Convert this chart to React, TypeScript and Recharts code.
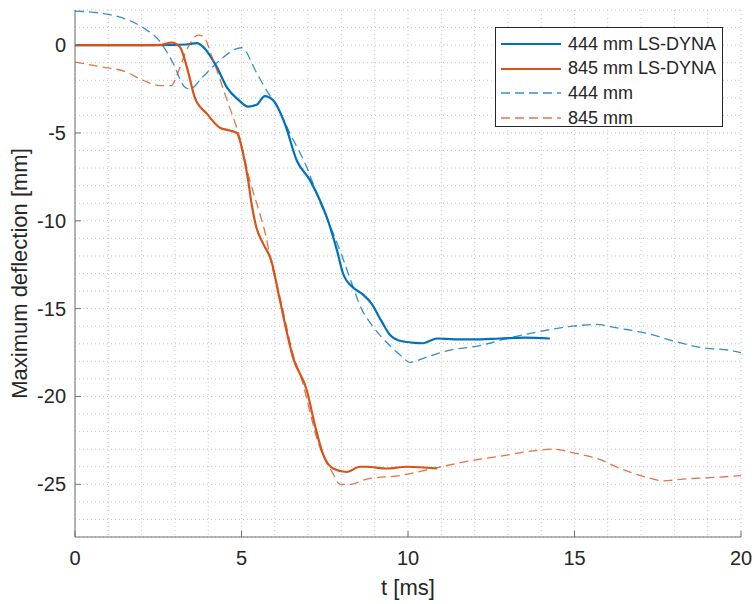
import React from 'react'
import { LineChart, Line, XAxis, YAxis, CartesianGrid, Legend } from 'recharts'

// time [ms] and deflection [mm]
const dyna444T = [0, 1, 2, 3, 3.4, 3.66, 3.9, 4.26, 4.56, 4.9, 5.2, 5.45, 5.7, 5.95, 6.3, 6.66, 7.06, 7.36, 7.6, 7.87, 8.05, 8.35, 8.65, 8.9, 9.2, 9.46, 9.7, 9.97, 10.2, 10.45, 10.7, 10.87, 11.4, 11.95, 12.76, 13.5, 14.26]
const dyna444Y = [0, 0, 0, 0.02, 0.05, 0.12, -0.2, -1.25, -2.4, -3.1, -3.5, -3.4, -2.9, -3.14, -4.46, -6.57, -7.7, -8.86, -10, -11.7, -13.0, -13.8, -14.2, -14.7, -15.7, -16.5, -16.8, -16.9, -16.95, -16.97, -16.8, -16.7, -16.75, -16.75, -16.7, -16.65, -16.7]

const dyna845T = [0, 1, 2, 2.6, 2.9, 3.15, 3.36, 3.6, 3.96, 4.35, 4.65, 4.86, 5.05, 5.2, 5.3, 5.45, 5.65, 5.9, 6.15, 6.55, 6.97, 7.2, 7.45, 7.75, 8.16, 8.56, 8.76, 9.36, 9.97, 10.87]
const dyna845Y = [0, 0, 0, 0.02, 0.15, -0.1, -1.25, -3.0, -3.9, -4.7, -4.86, -5.0, -6.2, -7.7, -9.0, -10.4, -11.3, -12.3, -14.5, -17.8, -19.7, -21.6, -23.3, -24.1, -24.3, -24.0, -24.0, -24.1, -24.0, -24.1]

const meas444T = [0, 0.84, 1.5, 2.04, 2.55, 2.94, 3.3, 3.45, 3.84, 4.35, 4.86, 5.0, 5.46, 5.76, 6.1, 6.45, 6.97, 7.27, 7.75, 8.0, 8.3, 8.6, 8.9, 9.4, 9.8, 10.06, 10.5, 11.17, 12.16, 12.97, 13.96, 14.95, 15.67, 16.28, 17.17, 18.08, 18.77, 19.76, 20]
const meas444Y = [1.94, 1.8, 1.5, 1.0, 0.2, -1.0, -2.4, -2.5, -1.8, -0.86, -0.2, -0.15, -1.6, -2.6, -3.6, -5.0, -7.0, -8.5, -10.7, -11.9, -13.5, -15.0, -15.9, -17.0, -17.7, -18.06, -17.8, -17.4, -17.1, -16.7, -16.3, -16.0, -15.9, -16.1, -16.4, -16.9, -17.2, -17.4, -17.5]

const meas845T = [0, 0.84, 1.5, 2.04, 2.55, 2.9, 3.06, 3.4, 3.7, 3.85, 4.15, 4.56, 4.95, 5.25, 5.55, 5.76, 5.86, 6.15, 6.55, 6.8, 7.3, 7.75, 7.96, 8.26, 8.76, 9.76, 10.75, 11.77, 12.76, 13.75, 14.35, 14.95, 15.77, 16.37, 17.17, 17.66, 18.26, 19.28, 20]
const meas845Y = [-0.97, -1.25, -1.5, -2.0, -2.3, -2.3, -1.7, -0.1, 0.57, 0.5, -0.86, -3.1, -5.3, -7.7, -9.6, -11.1, -12.1, -14.3, -17.6, -19.0, -22.6, -24.4, -25.0, -25.0, -24.7, -24.5, -24.1, -23.7, -23.4, -23.1, -23.0, -23.2, -23.6, -24.1, -24.6, -24.8, -24.7, -24.6, -24.5]

const xTicks = [0, 5, 10, 15, 20]
const yTicks = [-25, -20, -15, -10, -5, 0]
const xMinor = [0, 1, 2, 3, 4, 5, 6, 7, 8, 9, 10, 11, 12, 13, 14, 15, 16, 17, 18, 19, 20]
const yMinor = [-28, -27, -26, -25, -24, -23, -22, -21, -20, -19, -18, -17, -16, -15, -14, -13, -12, -11, -10, -9, -8, -7, -6, -5, -4, -3, -2, -1, 0, 1, 2]

const series = [
  { name: '444 mm LS-DYNA', t: dyna444T, y: dyna444Y, color: '#0072BD', dashed: false },
  { name: '845 mm LS-DYNA', t: dyna845T, y: dyna845Y, color: '#D95319', dashed: false },
  { name: '444 mm', t: meas444T, y: meas444Y, color: '#0072BD', dashed: true },
  { name: '845 mm', t: meas845T, y: meas845Y, color: '#D95319', dashed: true },
]

const FONT = '"Liberation Sans", Arial, Helvetica, sans-serif'
const AXIS = '#6e6e6e'
const TEXT = '#262626'

const BottomTick = (props: any) => {
  const { x, y, payload } = props
  return (
    <g>
      <line x1={x} y1={y} x2={x} y2={y - 6} stroke={AXIS} />
      <text x={x} y={y + 28} textAnchor="middle" fontSize={20} fontFamily={FONT} fill={TEXT}>
        {payload.value}
      </text>
    </g>
  )
}

const TopTick = (props: any) => {
  const { x, y } = props
  return <line x1={x} y1={y} x2={x} y2={y + 6} stroke={AXIS} />
}

const LeftTick = (props: any) => {
  const { x, y, payload } = props
  return (
    <g>
      <line x1={x} y1={y} x2={x + 6} y2={y} stroke={AXIS} />
      <text x={x - 9} y={y + 7} textAnchor="end" fontSize={20} fontFamily={FONT} fill={TEXT}>
        {payload.value}
      </text>
    </g>
  )
}

const RightTick = (props: any) => {
  const { x, y } = props
  return <line x1={x} y1={y} x2={x - 6} y2={y} stroke={AXIS} />
}

const LegendBox = () => (
  <div
    style={{
      width: 228,
      height: 100,
      border: '1px solid #262626',
      background: '#fff',
      boxSizing: 'border-box',
      fontFamily: FONT,
      fontSize: 18,
      color: TEXT,
      paddingTop: 4,
    }}
  >
    {series.map((s) => (
      <div key={s.name} style={{ display: 'flex', alignItems: 'center', height: 24.6 }}>
        <svg width={70} height={10}>
          <line
            x1={5}
            y1={5}
            x2={65}
            y2={5}
            stroke={s.color}
            strokeWidth={s.dashed ? 1.3 : 2.2}
            strokeDasharray={s.dashed ? '9 5' : undefined}
            strokeOpacity={s.dashed ? 0.8 : 1}
          />
        </svg>
        <span style={{ marginLeft: 2 }}>{s.name}</span>
      </div>
    ))}
  </div>
)

export default function App() {
  return (
    <div style={{ position: 'absolute', left: 0, top: 0, background: '#fff' }}>
      <LineChart width={755} height={604} margin={{ top: 10, right: 14, bottom: 0, left: 0 }}>
        <CartesianGrid
          stroke="#c4c4c4"
          strokeDasharray="1 3"
          horizontalValues={yMinor}
          verticalValues={xMinor}
        />
        <XAxis
          dataKey="t"
          type="number"
          domain={[0, 20]}
          ticks={xTicks}
          interval={0}
          allowDataOverflow
          height={67}
          tickSize={0}
          tickMargin={0}
          tick={<BottomTick />}
          axisLine={{ stroke: AXIS }}
          label={{
            content: (p: any) => {
              const vb = p.viewBox
              return (
                <text x={vb.x + vb.width / 2} y={vb.y + 58} textAnchor="middle" fontSize={22} fontFamily={FONT} fill={TEXT}>
                  t [ms]
                </text>
              )
            },
          }}
        />
        <XAxis
          xAxisId="top"
          orientation="top"
          type="number"
          domain={[0, 20]}
          ticks={xTicks}
          interval={0}
          allowDataOverflow
          height={0}
          tickSize={0}
          tickMargin={0}
          tick={<TopTick />}
          axisLine={{ stroke: AXIS }}
        />
        <YAxis
          type="number"
          domain={[-28, 2]}
          ticks={yTicks}
          interval={0}
          allowDataOverflow
          width={75}
          tickSize={0}
          tickMargin={0}
          tick={<LeftTick />}
          axisLine={{ stroke: AXIS }}
          label={{
            content: (p: any) => {
              const vb = p.viewBox
              const cx = 27
              const cy = vb.y + vb.height / 2
              return (
                <text
                  x={cx}
                  y={cy}
                  transform={`rotate(-90, ${cx}, ${cy})`}
                  textAnchor="middle"
                  fontSize={22}
                  fontFamily={FONT}
                  fill={TEXT}
                >
                  Maximum deflection [mm]
                </text>
              )
            },
          }}
        />
        <YAxis
          yAxisId="right"
          orientation="right"
          type="number"
          domain={[-28, 2]}
          ticks={yTicks}
          interval={0}
          allowDataOverflow
          width={0}
          tickSize={0}
          tickMargin={0}
          tick={<RightTick />}
          axisLine={{ stroke: AXIS }}
        />
        <Legend
          layout="vertical"
          align="center"
          verticalAlign="middle"
          content={<LegendBox />}
          wrapperStyle={{ left: 495, top: 27, width: 228, height: 100 }}
        />
        {series.map((s) => (
          <Line
            key={s.name}
            name={s.name}
            data={s.t.map((t, i) => ({ t, v: s.y[i] }))}
            dataKey="v"
            type="monotone"
            stroke={s.color}
            strokeWidth={s.dashed ? 1.3 : 2.2}
            strokeDasharray={s.dashed ? '9 5' : undefined}
            strokeOpacity={s.dashed ? 0.8 : 1}
            dot={false}
            activeDot={false}
            isAnimationActive={false}
          />
        ))}
      </LineChart>
    </div>
  )
}
